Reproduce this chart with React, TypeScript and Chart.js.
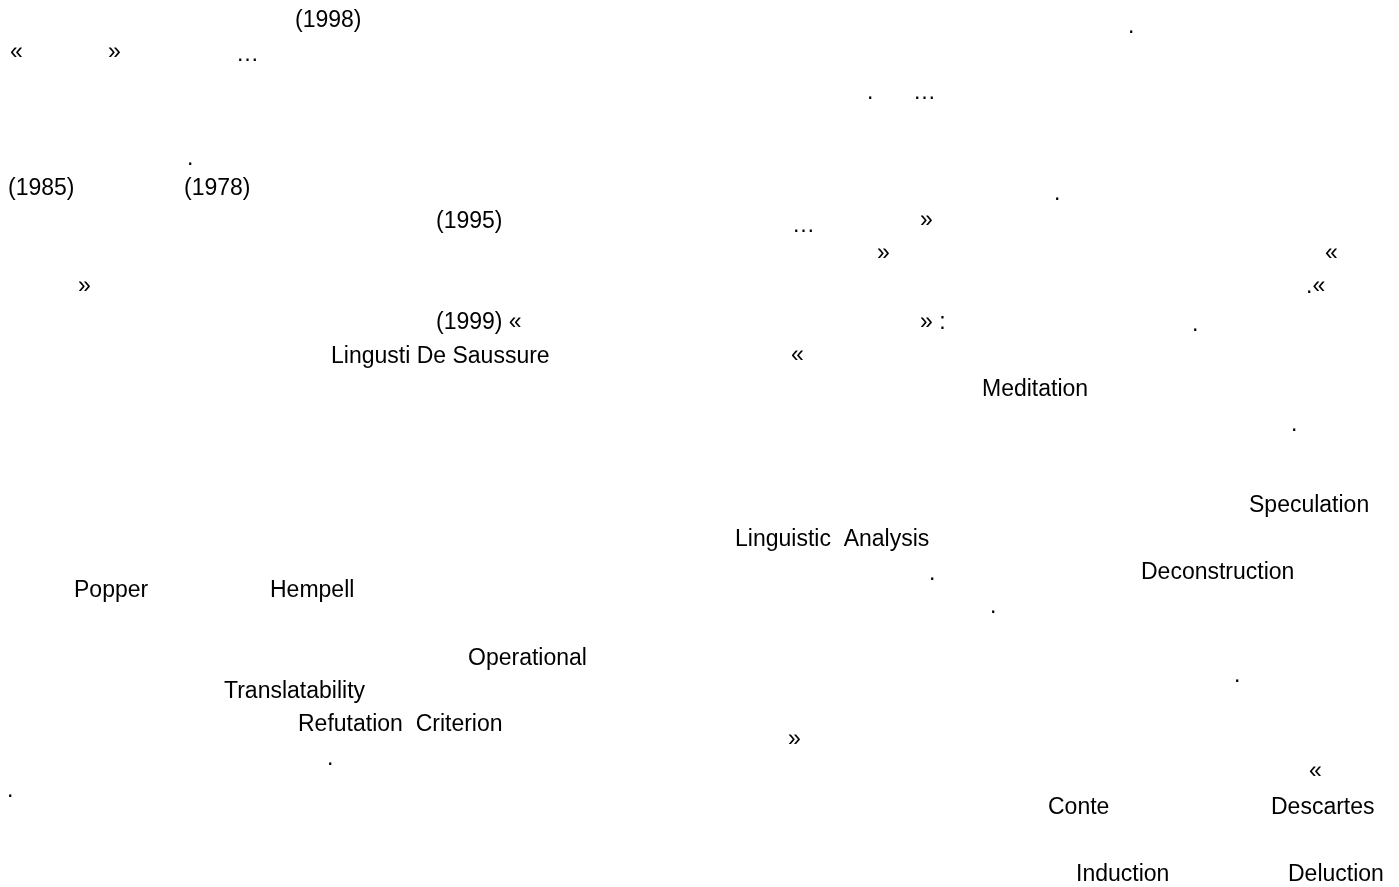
import React, { useEffect, useRef } from "react";
import { Chart, registerables } from "chart.js";

Chart.register(...registerables);

// Text fragments on the page (Arabic glyphs missing in the source, only Latin parts remain)
const fragments: string[] = [
  "(1998)",
  "«", "»", "…",
  ".",
  ".", "…",
  ".",
  "(1985)", "(1978)",
  ".",
  "(1995)",
  "…", "»",
  "»", "«",
  "»", ".«",
  "(1999) «", "» :", ".",
  "Lingusti De Saussure", "«",
  "Meditation",
  ".",
  "Speculation",
  "Linguistic  Analysis",
  ".", "Deconstruction",
  "Popper", "Hempell",
  ".",
  "Operational",
  ".",
  "Translatability",
  "Refutation  Criterion",
  "»",
  ".",
  "«",
  ".",
  "Conte", "Descartes",
  "Induction", "Deluction",
];

// Horizontal position of each fragment (page units, left edge)
const fragmentX: number[] = [
  295,
  10, 108, 236,
  1128,
  867, 913,
  187,
  8, 184,
  1054,
  436,
  792, 920,
  877, 1325,
  78, 1306,
  436, 920, 1192,
  331, 791,
  982,
  1291,
  1249,
  735,
  929, 1141,
  74, 270,
  990,
  468,
  1234,
  224,
  298,
  788,
  327,
  1309,
  7,
  1048, 1271,
  1076, 1288,
];

// Vertical position (baseline) of each fragment (page units, from top)
const fragmentY: number[] = [
  27,
  59, 59, 61,
  33,
  99, 99,
  165,
  195, 195,
  200,
  228,
  232, 227,
  260, 260,
  293, 293,
  329, 329, 331,
  363, 362,
  396,
  431,
  512,
  546,
  580, 579,
  597, 597,
  613,
  665,
  682,
  698,
  731,
  746,
  765,
  778,
  797,
  814, 814,
  881, 881,
];

const PAGE_W = 1399;
const PAGE_H = 887;

const textPlugin = {
  id: "fragmentText",
  afterDatasetsDraw(chart: any) {
    const ctx = chart.ctx;
    const meta = chart.getDatasetMeta(0);
    ctx.save();
    ctx.fillStyle = "#000000";
    ctx.font = "23px 'Liberation Sans', Arial, sans-serif";
    ctx.textAlign = "left";
    ctx.textBaseline = "alphabetic";
    meta.data.forEach((el: any, i: number) => {
      ctx.fillText(fragments[i], el.x, el.y);
    });
    ctx.restore();
  },
};

export default function App() {
  const ref = useRef<HTMLCanvasElement | null>(null);

  useEffect(() => {
    if (!ref.current) return;
    const chart = new Chart(ref.current, {
      type: "scatter",
      data: {
        datasets: [
          {
            label: "fragments",
            data: fragments.map((_, i) => ({ x: fragmentX[i], y: fragmentY[i] })),
            pointRadius: 0,
            pointHoverRadius: 0,
          },
        ],
      },
      options: {
        animation: false,
        responsive: false,
        maintainAspectRatio: false,
        devicePixelRatio: 1,
        layout: { padding: 0 },
        events: [],
        plugins: {
          legend: { display: false },
          tooltip: { enabled: false },
        },
        scales: {
          x: { type: "linear", min: 0, max: PAGE_W, display: false },
          y: { type: "linear", min: 0, max: PAGE_H, reverse: true, display: false },
        },
      },
      plugins: [textPlugin],
    });
    return () => chart.destroy();
  }, []);

  return (
    <div
      style={{
        position: "fixed",
        top: 0,
        left: 0,
        width: PAGE_W,
        height: PAGE_H,
        background: "#ffffff",
      }}
    >
      <canvas
        ref={ref}
        width={PAGE_W}
        height={PAGE_H}
        style={{ display: "block", width: PAGE_W, height: PAGE_H }}
        aria-label={fragments.join(" ")}
      />
    </div>
  );
}
